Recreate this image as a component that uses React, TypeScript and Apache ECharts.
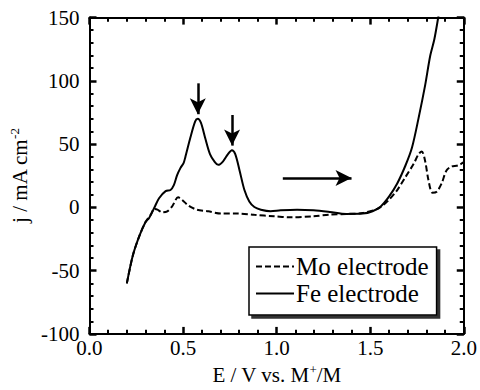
import React, { useEffect, useRef } from "react";
import * as echarts from "echarts";

const feX = [0.2, 0.232, 0.267, 0.3, 0.319, 0.346, 0.372, 0.407, 0.433, 0.451, 0.468, 0.486, 0.503, 0.512, 0.539, 0.565, 0.579, 0.596, 0.618, 0.644, 0.67, 0.688, 0.714, 0.74, 0.761, 0.779, 0.802, 0.828, 0.854, 0.881, 0.916, 0.968, 1.021, 1.109, 1.197, 1.284, 1.372, 1.46, 1.512, 1.556, 1.6, 1.644, 1.688, 1.723, 1.758, 1.793, 1.82, 1.842, 1.863, 1.88];
const feY = [-60, -38, -22.5, -11.6, -8.3, -0.5, 7.2, 12.9, 13.7, 17.6, 25.3, 31, 35, 39.5, 55, 68, 70, 66.7, 55, 42.1, 35.7, 33.6, 36.4, 42.1, 45.2, 42.1, 29.2, 13.7, 4.7, 0.3, -1.8, -3, -2.3, -1.8, -2.3, -3.6, -5.2, -4.9, -3, 0.8, 8.5, 18.9, 33.1, 47.3, 70.5, 96.4, 119.6, 132.6, 150, 165];

const moX = [0.2, 0.232, 0.267, 0.3, 0.328, 0.346, 0.363, 0.389, 0.416, 0.442, 0.474, 0.495, 0.53, 0.574, 0.635, 0.705, 0.793, 0.881, 0.986, 1.074, 1.197, 1.284, 1.372, 1.46, 1.547, 1.6, 1.644, 1.688, 1.732, 1.758, 1.775, 1.793, 1.811, 1.832, 1.855, 1.881, 1.907, 1.933, 1.968, 2.0];
const moY = [-60, -38, -22.5, -11.6, -5.7, -1.3, -1.8, -3.9, -3.1, 0.8, 8, 6, 1.3, -1.8, -3.1, -4.9, -4.9, -5.9, -7, -7.8, -7, -5.7, -5.2, -4.4, -0.5, 6, 13.7, 24, 34.4, 42.1, 44.2, 36.7, 21.4, 11.6, 12.4, 18.9, 29.2, 32.3, 33.1, 35.7];

const xTicks = [0, 0.5, 1.0, 1.5, 2.0];
const xMinorTicks = [0.1, 0.2, 0.3, 0.4, 0.6, 0.7, 0.8, 0.9, 1.1, 1.2, 1.3, 1.4, 1.6, 1.7, 1.8, 1.9];
const yTicks = [-100, -50, 0, 50, 100, 150];
const yMinorTicks = [-90, -80, -70, -60, -40, -30, -20, -10, 10, 20, 30, 40, 60, 70, 80, 90, 110, 120, 130, 140];

// arrows: [x1, y1, x2, y2] in data units (x2, y2 = tip)
const arrows = [
  [0.579, 98, 0.579, 73.6],
  [0.762, 73, 0.762, 48.8],
  [1.033, 23.3, 1.40, 23.3],
];

const FONT = "Liberation Serif";

export default function App() {
  const ref = useRef<HTMLDivElement>(null);
  useEffect(() => {
    if (!ref.current) return;
    const chart = echarts.init(ref.current, undefined, { renderer: "svg" });
    const pair = (xs: number[], ys: number[]) => xs.map((x, i) => [x, ys[i]]);
    const xMin = xTicks[0];
    const xMax = xTicks[xTicks.length - 1];
    const yMin = yTicks[0];
    const yMax = yTicks[yTicks.length - 1];

    // tick lengths expressed in data units of the perpendicular axis
    const xTickMajor = 5.6; // y units
    const xTickMinor = 3.3;
    const yTickMajor = 0.038; // x units
    const yTickMinor = 0.022;

    const seg = (a: number[], b: number[], w: number) => [
      { coord: a, lineStyle: { color: "#000", width: w, type: "solid" } },
      { coord: b },
    ];
    const tickLines: any[] = [];
    const addX = (v: number, len: number, w: number) => {
      tickLines.push(seg([v, yMin], [v, yMin + len], w));
      tickLines.push(seg([v, yMax], [v, yMax - len], w));
    };
    const addY = (v: number, len: number, w: number) => {
      tickLines.push(seg([xMin, v], [xMin + len, v], w));
      tickLines.push(seg([xMax, v], [xMax - len, v], w));
    };
    xTicks.forEach((v) => addX(v, xTickMajor, 2.5));
    xMinorTicks.forEach((v) => addX(v, xTickMinor, 2));
    yTicks.forEach((v) => addY(v, yTickMajor, 2.5));
    yMinorTicks.forEach((v) => addY(v, yTickMinor, 2));

    const axisBase = {
      type: "value",
      splitLine: { show: false },
      axisLine: { show: true, onZero: false, lineStyle: { color: "#000", width: 2 } },
      axisTick: { show: false },
      minorTick: { show: false },
    };
    const supRich = { sup: { fontFamily: FONT, fontSize: 13, verticalAlign: "top", padding: [0, 0, 10, 0] } };
    chart.setOption({
      animation: false,
      backgroundColor: "#fff",
      grid: { left: 86, right: 14, top: 17.5, bottom: 50, containLabel: false },
      legend: {
        data: ["Mo electrode", "Fe electrode"],
        orient: "vertical",
        left: 249,
        top: 247,
        padding: [7, 8, 9, 6],
        itemWidth: 38,
        itemHeight: 14,
        itemGap: 2,
        itemStyle: { opacity: 0 },
        backgroundColor: "#fff",
        borderColor: "#000",
        borderWidth: 1.5,
        borderRadius: 0,
        shadowColor: "#333",
        shadowBlur: 0,
        shadowOffsetX: 3,
        shadowOffsetY: 3,
        textStyle: { fontFamily: FONT, fontSize: 25, color: "#000", lineHeight: 24, padding: [0, 0, 0, -3] },
      },
      xAxis: [
        {
          ...axisBase,
          min: xMin,
          max: xMax,
          interval: 0.5,
          position: "bottom",
          name: "E / V vs. M{sup|+}/M",
          nameLocation: "middle",
          nameGap: 29,
          nameTextStyle: { fontFamily: FONT, fontSize: 21, color: "#000", rich: supRich },
          axisLabel: {
            fontFamily: FONT,
            fontSize: 21,
            color: "#000",
            margin: 3,
            formatter: (v: number) => v.toFixed(1),
          },
        },
        {
          ...axisBase,
          min: xMin,
          max: xMax,
          interval: 0.5,
          position: "top",
          axisLabel: { show: false },
        },
      ],
      yAxis: [
        {
          ...axisBase,
          min: yMin,
          max: yMax,
          interval: 50,
          position: "left",
          name: "j / mA cm{sup|-2}",
          nameLocation: "middle",
          nameGap: 40,
          nameTextStyle: { fontFamily: FONT, fontSize: 21, color: "#000", rich: supRich },
          axisLabel: {
            fontFamily: FONT,
            fontSize: 21,
            color: "#000",
            margin: 10,
            padding: [8, 0, 0, 0],
          },
        },
        {
          ...axisBase,
          min: yMin,
          max: yMax,
          interval: 50,
          position: "right",
          axisLabel: { show: false },
        },
      ],
      series: [
        {
          name: "Mo electrode",
          type: "line",
          xAxisIndex: 0,
          yAxisIndex: 0,
          data: pair(moX, moY),
          showSymbol: false,
          symbol: "none",
          smooth: 0.3,
          lineStyle: { color: "#000", width: 2, type: [6, 3] },
          itemStyle: { color: "#000" },
          markLine: {
            silent: true,
            symbol: ["none", "none"],
            label: { show: false },
            lineStyle: { color: "#000", width: 2.5, type: "solid" },
            data: tickLines,
          },
        },
        {
          name: "Fe electrode",
          type: "line",
          xAxisIndex: 0,
          yAxisIndex: 0,
          data: pair(feX, feY),
          showSymbol: false,
          symbol: "none",
          smooth: 0.3,
          lineStyle: { color: "#000", width: 2 },
          itemStyle: { color: "#000" },
          markLine: {
            silent: true,
            symbol: ["none", "arrow"],
            symbolSize: [12, 16],
            label: { show: false },
            lineStyle: { color: "#000", width: 2.5, type: "solid" },
            data: arrows.map((a) => [{ coord: [a[0], a[1]] }, { coord: [a[2], a[3]] }]),
          },
        },
      ],
    });
    return () => chart.dispose();
  }, []);
  return <div ref={ref} style={{ width: 480, height: 390, position: "absolute", left: 0, top: 0 }} />;
}
